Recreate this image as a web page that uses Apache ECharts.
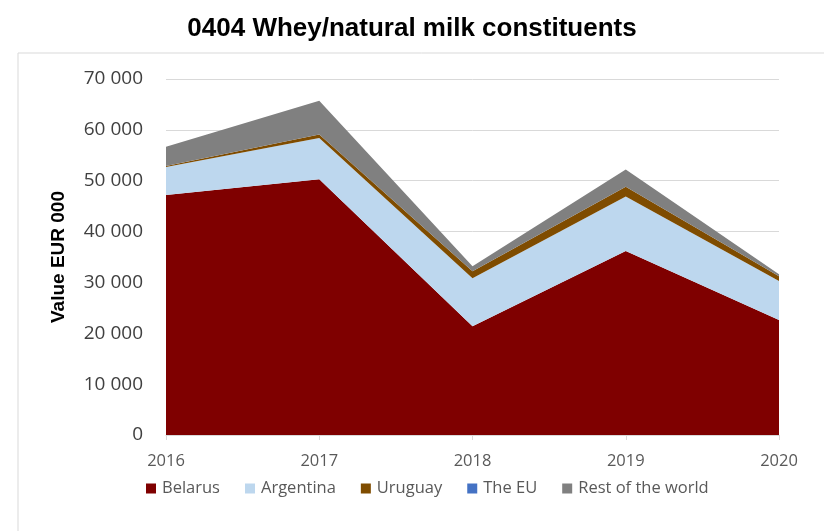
<!DOCTYPE html>
<html>
<head>
<meta charset="utf-8">
<script src="https://cdn.jsdelivr.net/npm/echarts@6/dist/echarts.min.js"></script>
<style>
  html, body { margin: 0; padding: 0; background: #fff; }
  #chart { width: 824px; height: 531px; }
</style>
</head>
<body>
<div id="chart"></div>
<script>
// Import value by origin, EUR 000
const years = ['2016', '2017', '2018', '2019', '2020'];
const belarus   = [47200, 50300, 21400, 36200, 22600];
const argentina = [5500, 8100, 9400, 10700, 7700];
const uruguay   = [200, 700, 1400, 1900, 900];
const theEU     = [0, 0, 0, 0, 0];
const restWorld = [3800, 6600, 1000, 3400, 400];

const yTicks = [0, 10000, 20000, 30000, 40000, 50000, 60000, 70000];

const seriesDefs = [
  { name: 'Belarus', data: belarus, color: '#7f0000' },
  { name: 'Argentina', data: argentina, color: '#bdd7ee' },
  { name: 'Uruguay', data: uruguay, color: '#7f4c00' },
  { name: 'The EU', data: theEU, color: '#4472c4' },
  { name: 'Rest of the world', data: restWorld, color: '#808080' }
];

const fmt = v => String(v).replace(/\B(?=(\d{3})+(?!\d))/g, ' ');

const chart = echarts.init(document.getElementById('chart'), null, { renderer: 'canvas' });
chart.setOption({
  animation: false,
  backgroundColor: '#fff',
  title: {
    text: '0404 Whey/natural milk constituents',
    left: 'center',
    top: 11,
    textStyle: { fontFamily: 'Liberation Sans, Arial', fontWeight: 'bold', fontSize: 26, color: '#000' }
  },
  graphic: [{
    type: 'rect',
    shape: { x: 18, y: 53, width: 820, height: 490 },
    style: { fill: 'none', stroke: '#d9d9d9', lineWidth: 1 },
    silent: true,
    z: -1
  }],
  grid: { left: 166, right: 45, top: 79, bottom: 96 },
  legend: {
    left: 146,
    top: 480,
    padding: 0,
    itemWidth: 10,
    itemHeight: 10,
    itemGap: 25,
    icon: 'rect',
    textStyle: { fontFamily: 'Open Sans, sans-serif', fontSize: 16.5, color: '#595959', padding: [0, 0, 0, 1] },
    data: seriesDefs.map(s => s.name)
  },
  xAxis: {
    type: 'category',
    data: years,
    boundaryGap: false,
    axisLine: { lineStyle: { color: '#d9d9d9' } },
    axisTick: { show: true, length: 5, lineStyle: { color: '#d9d9d9' } },
    axisLabel: { fontFamily: 'Open Sans, sans-serif', fontSize: 16.5, color: '#595959', margin: 18 }
  },
  yAxis: {
    type: 'value',
    min: yTicks[0],
    max: yTicks[yTicks.length - 1],
    interval: 10000,
    name: 'Value EUR 000',
    nameLocation: 'middle',
    nameGap: 98,
    nameTextStyle: { fontFamily: 'Liberation Sans, Arial', fontWeight: 'bold', fontSize: 19, color: '#000' },
    axisLine: { show: false },
    axisTick: { show: false },
    axisLabel: { fontFamily: 'Open Sans, sans-serif', fontSize: 19, color: '#404040', margin: 23, formatter: fmt },
    splitLine: { lineStyle: { color: '#d9d9d9' } }
  },
  series: seriesDefs.map(s => ({
    name: s.name,
    type: 'line',
    stack: 'total',
    data: s.data,
    symbol: 'none',
    showSymbol: false,
    lineStyle: { width: 0 },
    areaStyle: { color: s.color, opacity: 1 },
    itemStyle: { color: s.color }
  }))
});
</script>
</body>
</html>
